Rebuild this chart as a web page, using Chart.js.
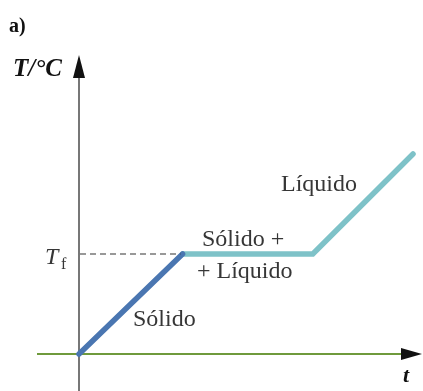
<!DOCTYPE html>
<html>
<head>
<meta charset="utf-8">
<script src="https://cdn.jsdelivr.net/npm/chart.js@4/dist/chart.umd.min.js"></script>
<style>
html,body{margin:0;padding:0;background:#fff;}
#wrap{width:423px;height:391px;position:relative;}
</style>
</head>
<body>
<div id="wrap"><canvas id="c" width="423" height="391"></canvas></div>
<script>
// Data (arbitrary units)
const heatTimes = [0, 3.1];
const heatTemps = [0, 5];
const meltTimes = [3.1, 7.0, 10];
const meltTemps = [5, 5, 10];
const meltingPoint = 5;
const phaseLabels = ["Sólido", "Sólido +", "+ Líquido", "Líquido"];
const axisLabelY = "T/°C";
const axisLabelX = "t";
const panelLabel = "a)";

const ink = "#363636";
const serif = "'Liberation Serif', 'DejaVu Serif', serif";

const decor = {
  id: "decor",
  afterDatasetsDraw(chart) {
    const ctx = chart.ctx;
    const xs = chart.scales.x, ys = chart.scales.y;
    const x0 = xs.getPixelForValue(0);
    const yTf = ys.getPixelForValue(meltingPoint);
    const xTf = xs.getPixelForValue(meltTimes[0]);
    ctx.save();
    ctx.strokeStyle = "#333";
    ctx.lineWidth = 1.2;
    ctx.setLineDash([6, 4]);
    ctx.beginPath();
    ctx.moveTo(x0 + 1, yTf);
    ctx.lineTo(xTf - 2, yTf);
    ctx.stroke();
    ctx.setLineDash([]);
    ctx.restore();
  },
  beforeDatasetsDraw(chart) {
    const ctx = chart.ctx;
    const xs = chart.scales.x, ys = chart.scales.y;
    const x0 = xs.getPixelForValue(0);
    const y0 = ys.getPixelForValue(0);
    ctx.save();
    ctx.strokeStyle = "#6f9a3c";
    ctx.lineWidth = 2;
    ctx.beginPath();
    ctx.moveTo(x0 - 42, y0);
    ctx.lineTo(403, y0);
    ctx.stroke();
    ctx.fillStyle = "#111";
    ctx.beginPath();
    ctx.moveTo(422, y0);
    ctx.lineTo(401, y0 - 6);
    ctx.lineTo(401, y0 + 6);
    ctx.closePath();
    ctx.fill();
    ctx.strokeStyle = "#4a4a4a";
    ctx.lineWidth = 1.5;
    ctx.beginPath();
    ctx.moveTo(x0, 391);
    ctx.lineTo(x0, 74);
    ctx.stroke();
    ctx.fillStyle = "#111";
    ctx.beginPath();
    ctx.moveTo(x0, 55);
    ctx.lineTo(x0 - 6, 78);
    ctx.lineTo(x0 + 6, 78);
    ctx.closePath();
    ctx.fill();
    ctx.restore();
  },
  afterDraw(chart) {
    const ctx = chart.ctx;
    const ys = chart.scales.y;
    const yTf = ys.getPixelForValue(meltingPoint);
    ctx.save();
    ctx.fillStyle = ink;
    ctx.textBaseline = "alphabetic";
    ctx.textAlign = "left";
    ctx.font = "24px " + serif;
    ctx.fillText(phaseLabels[0], 133, 326);
    ctx.fillText(phaseLabels[1], 202, 246);
    ctx.fillText(phaseLabels[2], 197, 278);
    ctx.fillText(phaseLabels[3], 281, 191);
    ctx.font = "italic 24px " + serif;
    ctx.fillText("T", 45, yTf + 10);
    ctx.font = "16px " + serif;
    ctx.fillText("f", 61, yTf + 15);
    ctx.fillStyle = "#111";
    ctx.font = "bold italic 25px " + serif;
    ctx.fillText(axisLabelY, 13, 76);
    ctx.font = "bold italic 22px " + serif;
    ctx.fillText(axisLabelX, 403, 382);
    ctx.font = "bold 20px " + serif;
    ctx.fillText(panelLabel, 9, 32);
    ctx.restore();
  }
};

new Chart(document.getElementById("c"), {
  type: "line",
  data: {
    datasets: [
      {
        data: heatTimes.map((t, i) => ({ x: t, y: heatTemps[i] })),
        borderColor: "#4a76b1",
        borderWidth: 5.5,
        pointRadius: 0,
        borderCapStyle: "round",
        tension: 0,
        clip: false
      },
      {
        data: meltTimes.map((t, i) => ({ x: t, y: meltTemps[i] })),
        borderColor: "#7ec2c8",
        borderWidth: 5.5,
        pointRadius: 0,
        borderCapStyle: "round",
        tension: 0,
        clip: false
      }
    ]
  },
  options: {
    responsive: false,
    animation: false,
    events: [],
    layout: { padding: { left: 79, right: 10, top: 154, bottom: 37 } },
    plugins: { legend: { display: false }, tooltip: { enabled: false } },
    scales: {
      x: { type: "linear", min: 0, max: 10, display: false },
      y: { type: "linear", min: 0, max: 10, display: false }
    }
  },
  plugins: [decor]
});
</script>
</body>
</html>
